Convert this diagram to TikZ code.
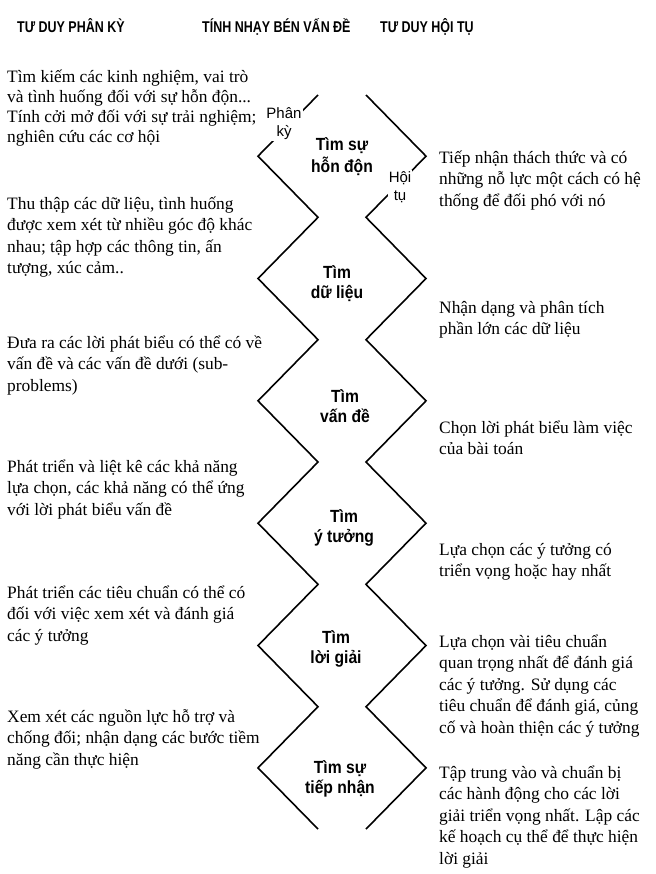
\documentclass[tikz,border=0pt]{standalone}
\usepackage{fontspec}
\setmainfont{Liberation Serif}
\setsansfont{Liberation Sans}
\newfontfamily\headfont[FakeStretch=0.8]{Liberation Sans}
\newfontfamily\labfont[FakeStretch=0.89]{Liberation Sans}
\usetikzlibrary{positioning}

\begin{document}
\begin{tikzpicture}[x=1pt, y=-1pt,
  tieude/.style={anchor=base west, inner sep=0pt, font=\headfont\bfseries\fontsize{15.6}{18}\selectfont},
  trai/.style={anchor=north west, inner sep=0pt, align=left, font=\fontsize{17.4}{21.5}\selectfont},
  phai/.style={trai},
  tim/.style={anchor=north, inner sep=0pt, align=center, font=\labfont\bfseries\fontsize{17.6}{18.5}\selectfont},
  nhan/.style={fill=white, inner sep=1pt, align=center, font=\sffamily\fontsize{15}{18}\selectfont},
  zig/.style={line width=1.6pt}]
            \useasboundingbox (0,0) rectangle (655,874);

            % Tiêu đề
            \node[tieude] (phanky) at (17,33) {TƯ DUY PHÂN KỲ};
            \node[tieude] (nhayben) at (202,33) {TÍNH NHẠY BÉN VẤN ĐỀ};
            \node[tieude] (hoitu) at (380,33) {TƯ DUY HỘI TỤ};

            % Hai đường zigzag
            \draw[zig] (318,95) \foreach \k in {1,...,12} { -- ({318-60*mod(\k,2)},{95+61.17*\k}) };
            \draw[zig] (366,95) \foreach \k in {1,...,12} { -- ({366+60*mod(\k,2)},{95+61.17*\k}) };

            % Nhãn trên đường
            \node[nhan] (nphan) at (284,124) {Phân\\kỳ};
            \node[nhan] (nhoi) at (400,187) {Hội\\tụ};

            % Các bước
            \node[tim] (b1) at (342,137.5) {\strut Tìm sự\\hỗn độn};
            \node[tim] (b2) at (337,265.5) {\strut Tìm\\dữ liệu};
            \node[tim] (b3) at (345,389.5) {\strut Tìm\\vấn đề};
            \node[tim] (b4) at (344,509.5) {\strut Tìm\\ý tưởng};
            \node[tim] (b5) at (336,630.5) {\strut Tìm\\lời giải};
            \node[tim] (b6) at (340,760.5) {\strut Tìm sự\\tiếp nhận};

            % Bên trái
            \node[trai, font=\fontsize{17.4}{20}\selectfont] (t1) at (7,68) {\strut Tìm kiếm các kinh nghiệm, vai trò\\và tình huống đối với sự hỗn độn...\\Tính cởi mở đối với sự trải nghiệm;\\nghiên cứu các cơ hội};
            \node[trai] (t2) at (7,194) {\strut Thu thập các dữ liệu, tình huống\\được xem xét từ nhiều góc độ khác\\nhau; tập hợp các thông tin, ấn\\tượng, xúc cảm..};
            \node[trai] (t3) at (7,333) {\strut Đưa ra các lời phát biểu có thể có về\\vấn đề và các vấn đề dưới (sub-\\problems)};
            \node[trai] (t4) at (7,457) {\strut Phát triển và liệt kê các khả năng\\lựa chọn, các khả năng có thể ứng\\với lời phát biểu vấn đề};
            \node[trai] (t5) at (7,583) {\strut Phát triển các tiêu chuẩn có thể có\\đối với việc xem xét và đánh giá\\các ý tưởng};
            \node[trai] (t6) at (7,707) {\strut Xem xét các nguồn lực hỗ trợ và\\chống đối; nhận dạng các bước tiềm\\năng cần thực hiện};

            % Bên phải
            \node[phai] (p1) at (439,148) {\strut Tiếp nhận thách thức và có\\những nỗ lực một cách có hệ\\thống để đối phó với nó};
            \node[phai] (p2) at (439,298) {\strut Nhận dạng và phân tích\\phần lớn các dữ liệu};
            \node[phai] (p3) at (439,418) {\strut Chọn lời phát biểu làm việc\\của bài toán};
            \node[phai] (p4) at (439,540) {\strut Lựa chọn các ý tưởng có\\triển vọng hoặc hay nhất};
            \node[phai] (p5) at (439,632) {\strut Lựa chọn vài tiêu chuẩn\\quan trọng nhất để đánh giá\\các ý tưởng. Sử dụng các\\tiêu chuẩn để đánh giá, củng\\cố và hoàn thiện các ý tưởng};
            \node[phai] (p6) at (439,763) {\strut Tập trung vào và chuẩn bị\\các hành động cho các lời\\giải triển vọng nhất. Lập các\\kế hoạch cụ thể để thực hiện\\lời giải};
        \end{tikzpicture}
\end{document}
